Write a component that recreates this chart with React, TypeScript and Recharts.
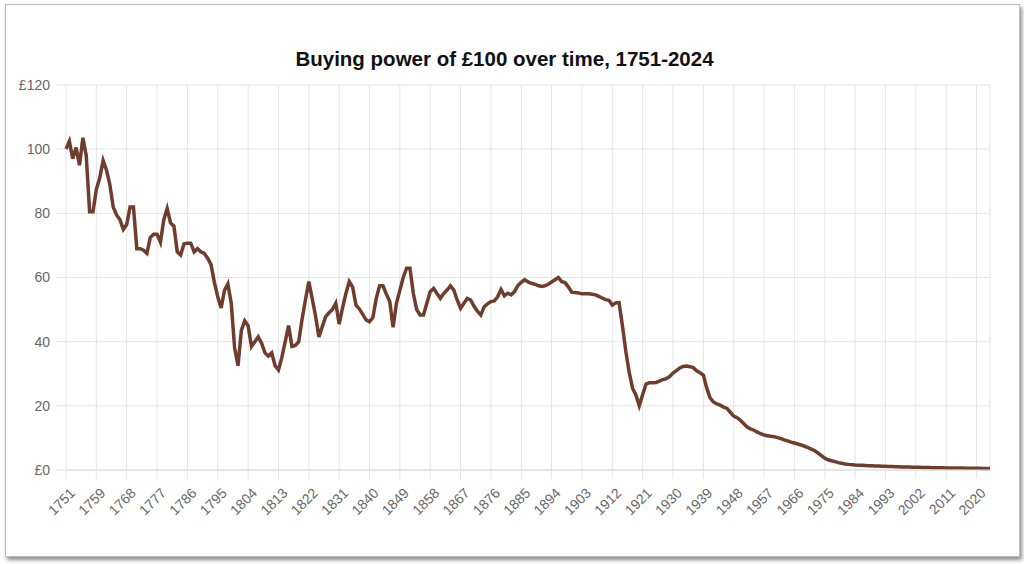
import React from "react";
import {
  LineChart,
  Line,
  XAxis,
  YAxis,
  CartesianGrid,
} from "recharts";

// Year labels: the series opens with a £100 baseline point, then one point per year
const yearLabels = [
  "1751",
  ...Array.from({ length: 274 }, (_, i) => String(1751 + i)),
];

// Buying power (£), split by century
const values1751to1800 = [
  100, 102.5, 97, 100.5, 95, 103.5, 98, 80.5, 80.5, 87.5, 91, 96.5, 93.5, 89,
  82, 79.5, 78, 75, 76.5, 82, 82, 69, 69, 68.5, 67.5, 72.5, 73.5, 73.5, 71, 78,
  81.5, 77, 76, 68, 67, 70.5, 70.7, 70.7, 68, 69, 68, 67.5, 66, 64, 58.5, 54,
  50.5, 56, 58, 52, 38,
];
const values1801to1900 = [
  32.5, 43.5, 46.5, 45, 38.5, 40, 41.5, 39.5, 36.5, 35.5, 36.5, 32.5, 31.2, 35,
  40, 45, 38.5, 38.8, 40, 47, 53, 58.7, 53.5, 48, 41.5, 44.7, 47.8, 49, 50, 52,
  45.5, 50.5, 55, 58.7, 57, 51.4, 50.2, 48.5, 46.8, 46.2, 47.5, 53.5, 57.4,
  57.4, 54.8, 52.5, 44.5, 52, 56, 60, 62.9, 62.9, 55, 50, 48.3, 48.3, 52, 55.6,
  56.6, 55, 53.5, 55, 56.1, 57.4, 56.1, 53, 50.4, 52, 53.5, 53, 51, 49.5, 48.3,
  50.9, 51.8, 52.5, 52.7, 54, 56.3, 54.3, 55.1, 54.6, 55.6, 57.5, 58.5, 59.3,
  58.6, 58.2, 57.9, 57.5, 57.2, 57.4, 57.9, 58.6, 59.3, 60, 58.7, 58.4, 57, 55.4,
];
const values1901to2000 = [
  55.3, 55.2, 54.9, 54.9, 54.9, 54.8, 54.6, 54.1, 53.6, 53.1, 52.9, 51.4, 52.1,
  52.2, 45, 37, 30.5, 25.5, 23.4, 20, 23.5, 26.8, 27.2, 27.2, 27.3, 27.7, 28.2,
  28.5, 29.1, 30.2, 31, 31.8, 32.3, 32.4, 32.2, 31.9, 30.9, 30.3, 29.6, 25.5,
  22.5, 21.2, 20.6, 20.2, 19.6, 19.2, 18, 16.8, 16.3, 15.5, 14.4, 13.4, 12.8,
  12.4, 11.8, 11.3, 10.9, 10.7, 10.5, 10.4, 10.1, 9.8, 9.4, 9.1, 8.7, 8.4, 8.1,
  7.8, 7.4, 7, 6.5, 6, 5.3, 4.5, 3.7, 3.2, 2.9, 2.6, 2.3, 2.1, 1.9, 1.75, 1.65,
  1.55, 1.5, 1.45, 1.4, 1.35, 1.3, 1.26, 1.22, 1.18, 1.14, 1.1, 1.06, 1.03, 1.0,
  0.97, 0.94, 0.91,
];
const values2001to2024 = [
  0.89, 0.86, 0.83, 0.8, 0.78, 0.76, 0.73, 0.71, 0.71, 0.69, 0.66, 0.64, 0.62,
  0.61, 0.6, 0.59, 0.57, 0.56, 0.55, 0.54, 0.52, 0.48, 0.45, 0.43,
];

const buyingPower = [
  ...values1751to1800,
  ...values1801to1900,
  ...values1901to2000,
  ...values2001to2024,
];

const yTicks = [0, 20, 40, 60, 80, 100, 120];

const data = yearLabels.map((year, i) => ({ year, value: buyingPower[i] }));

const FONT = "'Liberation Sans', Arial, sans-serif";

const XTick = (props: any) => {
  const { x, y, payload } = props;
  return (
    <g transform={`translate(${x + 10},${y + 13})`}>
      <text
        x={0}
        y={0}
        textAnchor="end"
        fill="#666"
        fontSize={14}
        fontFamily={FONT}
        transform="rotate(-45)"
      >
        {payload.value}
      </text>
    </g>
  );
};

export default function App() {
  return (
    <div
      style={{
        position: "fixed",
        left: 0,
        top: 0,
        width: 1024,
        height: 564,
        background: "#fff",
        fontFamily: FONT,
      }}
    >
      <div
        style={{
          position: "absolute",
          left: 5,
          top: 4,
          width: 1013,
          height: 551,
          border: "1px solid #bdbdbd",
          boxShadow: "2px 3px 4px rgba(0,0,0,0.45)",
          background: "#fff",
        }}
      />
      <div
        style={{
          position: "absolute",
          left: 0,
          top: 49,
          width: 1009,
          textAlign: "center",
          fontSize: 20.5,
          lineHeight: "20px",
          fontWeight: "bold",
          color: "#111",
        }}
      >
        Buying power of £100 over time, 1751-2024
      </div>
      <div style={{ position: "absolute", left: 0, top: 0 }}>
        <LineChart
          width={1024}
          height={564}
          data={data}
          margin={{ top: 85, right: 34, bottom: 34, left: 16 }}
        >
          <CartesianGrid stroke="#e4e4e4" strokeWidth={1} />
          <XAxis
            dataKey="year"
            interval={8}
            height={60}
            axisLine={{ stroke: "#dcdcdc" }}
            tickLine={{ stroke: "#e4e4e4" }}
            tickSize={9}
            tick={<XTick />}
          />
          <YAxis
            domain={[0, 120]}
            ticks={yTicks}
            width={50}
            axisLine={false}
            tickLine={{ stroke: "#e4e4e4" }}
            tickSize={10}
            tickMargin={6}
            tick={{ fill: "#666", fontSize: 14, fontFamily: FONT }}
            tickFormatter={(v: number) => (v === 0 || v === 120 ? `£${v}` : `${v}`)}
          />
          <Line
            type="linear"
            dataKey="value"
            stroke="#6f3d2d"
            strokeWidth={3.5}
            dot={false}
            isAnimationActive={false}
          />
        </LineChart>
      </div>
    </div>
  );
}
